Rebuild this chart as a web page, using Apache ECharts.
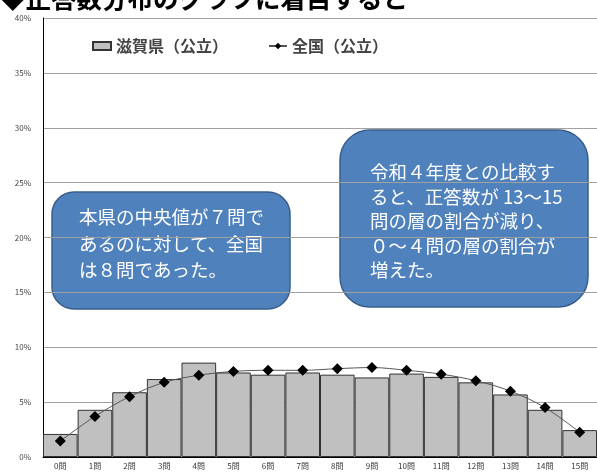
<!DOCTYPE html>
<html><head><meta charset="utf-8">
<script src="https://cdn.jsdelivr.net/npm/echarts@6/dist/echarts.min.js"></script>
<style>html,body{margin:0;padding:0;background:#fff}#c{width:597px;height:473px}</style>
</head><body><div id="c"></div>
<script>
const categories = ['0問','1問','2問','3問','4問','5問','6問','7問','8問','9問','10問','11問','12問','13問','14問','15問'];
const shigaValues = [2.1, 4.3, 5.9, 7.1, 8.6, 7.7, 7.5, 7.7, 7.5, 7.25, 7.6, 7.3, 6.8, 5.7, 4.3, 2.45];
const nationalValues = [1.45, 3.7, 5.5, 6.8, 7.45, 7.8, 7.9, 7.9, 8.05, 8.15, 7.9, 7.55, 6.95, 6.0, 4.5, 2.25];
const yTicks = [0, 5, 10, 15, 20, 25, 30, 35, 40];
const seriesNames = ['滋賀県（公立）', '全国（公立）'];
const titleText = '◆正答数分布のグラフに着目すると';
const note1 = ['本県の中央値が７問で', 'あるのに対して、全国', 'は８問であった。'];
const note2 = ['令和４年度との比較す', 'ると、正答数が 13～15', '問の層の割合が減り、', '０～４問の層の割合が', '増えた。'];

const chart = echarts.init(document.getElementById('c'));
const font = '"Noto Sans CJK JP", "Noto Sans", sans-serif';
chart.setOption({
  animation: false,
  textStyle: {fontFamily: font},
  grid: {left: 43, right: 0, top: 18, bottom: 16},
  legend: {
    data: [{name: seriesNames[0], icon: 'rect'}, {name: seriesNames[1]}],
    left: 87, top: 33, itemGap: 40, itemWidth: 18, itemHeight: 8,
    textStyle: {fontSize: 16, color: '#444', fontWeight: 'bold', fontFamily: font}
  },
  xAxis: {
    type: 'category', data: categories,
    axisLine: {lineStyle: {color: '#000', width: 1}},
    axisTick: {show: false},
    axisLabel: {fontSize: 8, color: '#333', margin: 5, interval: 0}
  },
  yAxis: {
    type: 'value', min: 0, max: 40, interval: 5,
    axisLine: {show: true, lineStyle: {color: '#000', width: 1}},
    axisTick: {show: false},
    splitLine: {lineStyle: {color: '#a0a0a0', width: 1}},
    axisLabel: {fontSize: 8, color: '#444', margin: 12, formatter: v => yTicks.includes(v) ? v + '%' : ''}
  },
  series: [
    {
      name: seriesNames[0], type: 'bar', data: shigaValues,
      barCategoryGap: '0%',
      itemStyle: {color: '#c0c0c0', borderColor: '#333', borderWidth: 1}
    },
    {
      name: seriesNames[1], type: 'line', data: nationalValues, smooth: 0.35,
      symbol: 'diamond', symbolSize: 11,
      lineStyle: {color: '#555', width: 1},
      itemStyle: {color: '#000'}
    }
  ],
  graphic: [
    {type: 'text', left: 0, top: -14, style: {text: titleText, font: 'bold 25.5px ' + font, fill: '#000'}},
    {type: 'rect', shape: {x: 52, y: 192, width: 238, height: 117, r: 22},
     style: {fill: '#4f81bd', stroke: '#385d8a', lineWidth: 1.5}},
    {type: 'text', left: 79, top: 204, style: {text: note1.join('\n'), font: '18.5px ' + font, fill: '#fff', lineHeight: 26.5}},
    {type: 'rect', shape: {x: 340, y: 130, width: 248, height: 177, r: 30},
     style: {fill: '#4f81bd', stroke: '#385d8a', lineWidth: 1.5}},
    {type: 'text', left: 370, top: 160, style: {text: note2.join('\n'), font: '18.5px ' + font, fill: '#fff', lineHeight: 24.5}}
  ]
});
</script></body></html>
